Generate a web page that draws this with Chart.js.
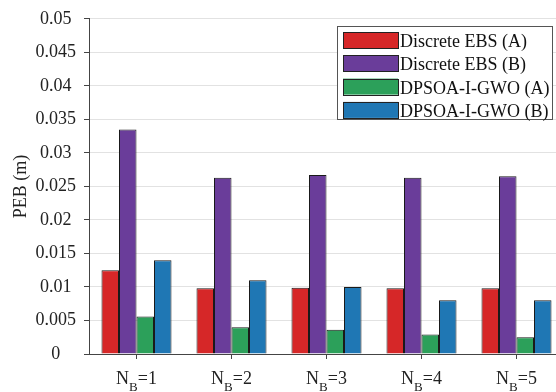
<!DOCTYPE html>
<html>
<head>
<meta charset="utf-8">
<script src="https://cdn.jsdelivr.net/npm/chart.js@4/dist/chart.umd.min.js"></script>
<style>
  html, body { margin: 0; padding: 0; background: #fff; overflow: hidden; }
  #wrap { position: relative; width: 566px; height: 392px; }
</style>
</head>
<body>
<div id="wrap"><canvas id="myChart"></canvas></div>
<script>
// categories: N_B=k  (main letter, subscript, rest)
const categories = ['N_B=1', 'N_B=2', 'N_B=3', 'N_B=4', 'N_B=5'];
const seriesNames = ['Discrete EBS (A)', 'Discrete EBS (B)', 'DPSOA-I-GWO (A)', 'DPSOA-I-GWO (B)'];
const ebsA = [0.0125, 0.0098, 0.0099, 0.0098, 0.0098];
const ebsB = [0.0335, 0.0263, 0.0267, 0.0263, 0.0265];
const gwoA = [0.0056, 0.0040, 0.0036, 0.0029, 0.0025];
const gwoB = [0.0140, 0.0110, 0.0100, 0.0080, 0.0080];
const colors = ['#d62728', '#6a3d9a', '#2ca05a', '#1f77b4'];

const FONT = '"Liberation Serif", "Times New Roman", serif';

const legendBox = {
  id: 'legendBox',
  afterDraw(chart) {
    const ctx = chart.ctx;
    const x0 = 337, y0 = 26, w = 215, h = 93;
    ctx.save();
    ctx.fillStyle = '#fff';
    ctx.fillRect(x0, y0, w, h);
    ctx.strokeStyle = '#555';
    ctx.lineWidth = 1;
    ctx.strokeRect(x0 + 0.5, y0 + 0.5, w, h);
    ctx.font = '18px ' + FONT;
    ctx.textBaseline = 'alphabetic';
    chart.data.datasets.forEach((ds, i) => {
      const y = 32 + i * 23.3;
      ctx.fillStyle = ds.backgroundColor;
      ctx.fillRect(343, y, 55, 16);
      ctx.strokeStyle = '#222';
      ctx.strokeRect(343.5, Math.round(y) + 0.5, 55, 16);
      ctx.fillStyle = '#111';
      ctx.fillText(ds.label, 400, y + 15);
    });
    ctx.restore();
  }
};

const xLabels = {
  id: 'xLabels',
  afterDraw(chart) {
    const ctx = chart.ctx;
    const xs = chart.scales.x;
    ctx.save();
    ctx.fillStyle = '#222';
    ctx.textBaseline = 'alphabetic';
    ctx.textAlign = 'left';
    chart.data.labels.forEach((lab, i) => {
      const main = lab.split('_')[0];
      const sub = lab.split('_')[1].charAt(0);
      const rest = lab.split('_')[1].slice(1);
      ctx.font = '18px ' + FONT;
      const w1 = ctx.measureText(main).width;
      const w3 = ctx.measureText(rest).width;
      ctx.font = '13px ' + FONT;
      const w2 = ctx.measureText(sub).width;
      let x = xs.getPixelForTick(i) - (w1 + w2 + w3) / 2;
      ctx.font = '18px ' + FONT;
      ctx.fillText(main, x, 384);
      x += w1;
      ctx.font = '13px ' + FONT;
      ctx.fillText(sub, x, 391);
      x += w2;
      ctx.font = '18px ' + FONT;
      ctx.fillText(rest, x, 384);
    });
    ctx.restore();
  }
};

const datasets = [ebsA, ebsB, gwoA, gwoB].map((d, i) => ({
  label: seriesNames[i],
  data: d,
  backgroundColor: colors[i],
  borderColor: '#1a1a1a',
  borderWidth: 1,
  barPercentage: 1,
  categoryPercentage: 0.737
}));

new Chart('myChart', {
  type: 'bar',
  data: { labels: categories, datasets: datasets },
  options: {
    responsive: true,
    maintainAspectRatio: false,
    animation: false,
    layout: { padding: { top: 18, right: 2, left: 0, bottom: 0 } },
    plugins: { legend: { display: false }, tooltip: { enabled: false } },
    scales: {
      x: {
        grid: { display: true, drawOnChartArea: false, offset: false, tickLength: 5, tickColor: '#444' },
        border: { color: '#444', width: 1 },
        ticks: { display: false },
        afterFit: (scale) => { scale.height = 38; }
      },
      y: {
        min: 0,
        max: 0.05,
        ticks: {
          stepSize: 0.005,
          crossAlign: 'center',
          padding: 8,
          color: '#222',
          font: { family: FONT, size: 18 },
          callback: (v) => String(parseFloat(v.toFixed(3)))
        },
        grid: { color: '#e2e2e2', tickLength: 5, tickColor: '#444' },
        border: { color: '#444', width: 1 },
        title: {
          display: true,
          text: 'PEB (m)',
          color: '#222',
          font: { family: FONT, size: 18 },
          padding: { top: 10, bottom: 0 }
        },
        afterFit: (scale) => { scale.width = 89; }
      }
    }
  },
  plugins: [xLabels, legendBox]
});
</script>
</body>
</html>
